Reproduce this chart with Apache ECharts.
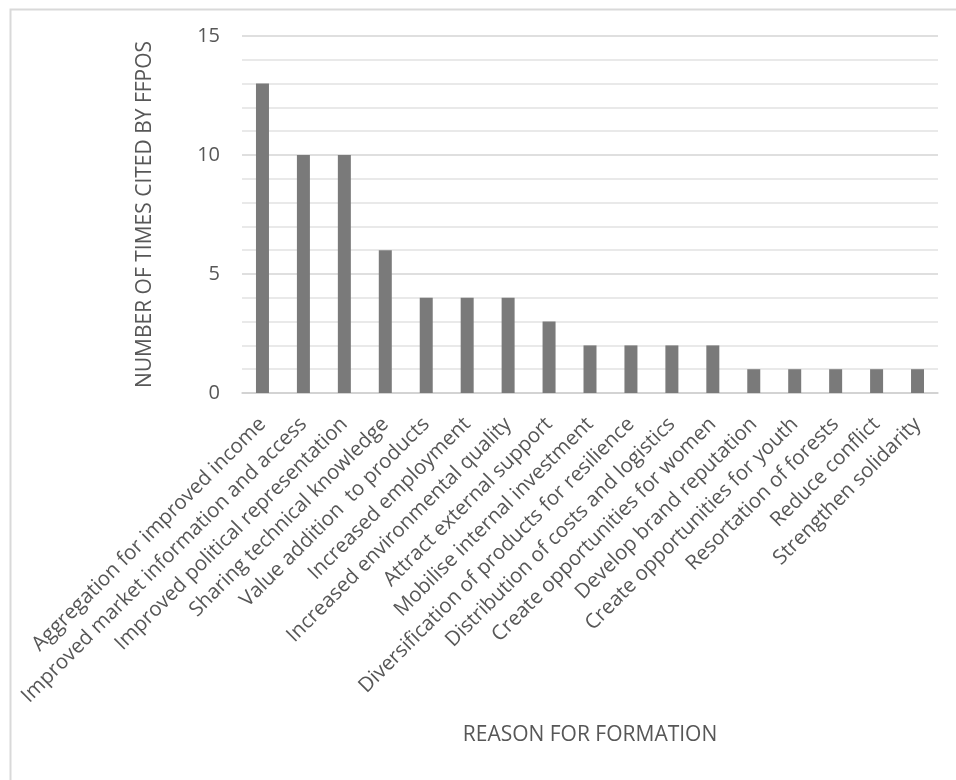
<!DOCTYPE html>
<html>
<head>
<meta charset="utf-8">
<script src="https://cdn.jsdelivr.net/npm/echarts@6/dist/echarts.min.js"></script>
<style>
  html, body { margin: 0; padding: 0; background: #fff; }
  #chart { width: 956px; height: 780px; }
</style>
</head>
<body>
<div id="chart"></div>
<script>
// Reasons cited by forest and farm producer organisations
const reasons = [
  'Aggregation for improved income',
  'Improved market information and access',
  'Improved political representation',
  'Sharing technical knowledge',
  'Value addition  to products',
  'Increased employment',
  'Increased environmental quality',
  'Attract external support',
  'Mobilise internal investment',
  'Diversification of products for resilience',
  'Distribution of costs and logistics',
  'Create opportunities for women',
  'Develop brand reputation',
  'Create opportunities for youth',
  'Resortation of forests',
  'Reduce conflict',
  'Strengthen solidarity'
];
const timesCited = [13, 10, 10, 6, 4, 4, 4, 3, 2, 2, 2, 2, 1, 1, 1, 1, 1];

const yTitle = 'NUMBER OF TIMES CITED BY FFPOS';
const xTitle = 'REASON FOR FORMATION';

const textColor = '#575757';
const fontFamily = '"Open Sans", "Liberation Sans", sans-serif';

const chart = echarts.init(document.getElementById('chart'));
chart.setOption({
  animation: false,
  backgroundColor: '#fff',
  graphic: [{
    type: 'rect',
    left: 8, top: 7,
    shape: { width: 1000, height: 1000 },
    style: { fill: 'none', stroke: '#d9d9d9', lineWidth: 2 },
    silent: true
  }],
  grid: { left: 242, right: 18, top: 36, bottom: 387, outerBoundsMode: 'none', containLabel: false },
  xAxis: {
    type: 'category',
    data: reasons,
    name: xTitle,
    nameLocation: 'middle',
    nameGap: 332,
    nameTextStyle: { color: textColor, fontSize: 21, fontFamily: fontFamily },
    axisLine: { show: true, lineStyle: { color: '#d0d0d0', width: 1.5 } },
    axisTick: { show: false },
    axisLabel: {
      rotate: 45,
      interval: 0,
      margin: 28,
      color: textColor,
      fontSize: 20.5,
      fontFamily: fontFamily
    }
  },
  yAxis: {
    type: 'value',
    min: 0,
    max: 15,
    interval: 5,
    name: yTitle,
    nameLocation: 'middle',
    nameGap: 86,
    nameTextStyle: { color: textColor, fontSize: 21, fontFamily: fontFamily },
    axisLine: { show: false },
    axisTick: { show: false },
    axisLabel: { margin: 22, color: textColor, fontSize: 20, fontFamily: fontFamily },
    splitLine: { show: true, lineStyle: { color: '#d4d4d4', width: 1.5 } },
    minorTick: { show: false, splitNumber: 5 },
    minorSplitLine: { show: true, lineStyle: { color: '#e2e2e2', width: 1.5 } }
  },
  series: [{
    type: 'bar',
    data: timesCited,
    barWidth: 13,
    itemStyle: { color: '#7a7a7a' }
  }]
});
</script>
</body>
</html>
